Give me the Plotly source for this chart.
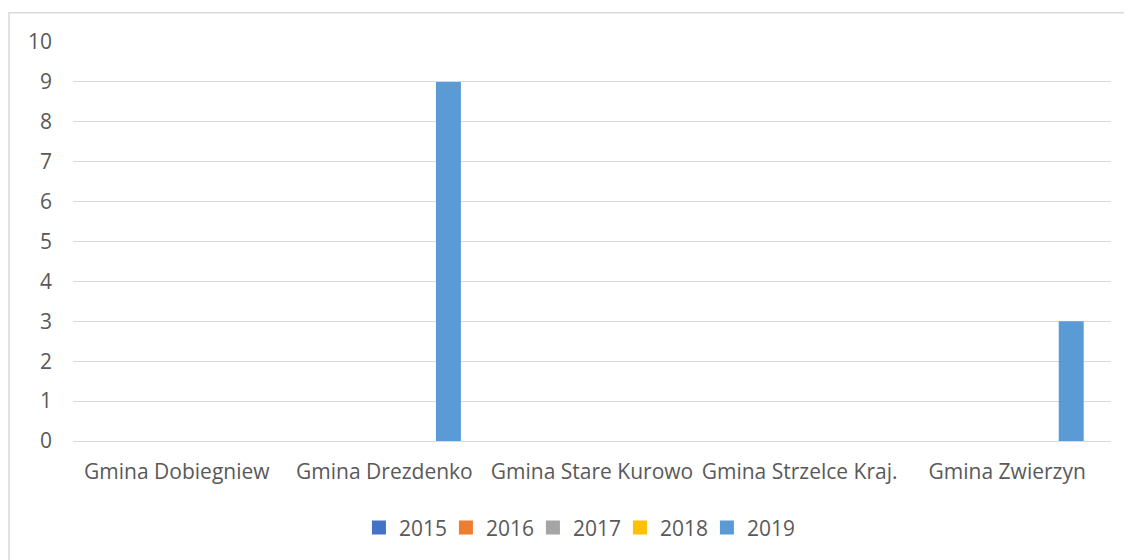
import plotly.graph_objects as go

categories = ["Gmina Dobiegniew", "Gmina Drezdenko", "Gmina Stare Kurowo", "Gmina Strzelce Kraj.", "Gmina Zwierzyn"]
series_names = ["2015", "2016", "2017", "2018", "2019"]
v2015 = [0, 0, 0, 0, 0]
v2016 = [0, 0, 0, 0, 0]
v2017 = [0, 0, 0, 0, 0]
v2018 = [0, 0, 0, 0, 0]
v2019 = [0, 9, 0, 0, 3]
colors = ["#4472C4", "#ED7D31", "#A5A5A5", "#FFC000", "#5B9BD5"]
y_ticks = list(range(0, 11))

values = [v2015, v2016, v2017, v2018, v2019]
OFF = 8  # default page body margin
W, H = 1132 - OFF, 560 - OFF
L, T = 73 - OFF, 41.5 - OFF
R = W - (1111 - OFF)
B = H - (443.5 - OFF)
pw, ph = W - L - R, H - T - B

fig = go.Figure()
for name, vals, col in zip(series_names, values, colors):
    fig.add_trace(go.Bar(name=name, x=categories, y=vals, marker_color=col,
                         marker_line_width=0, showlegend=False, legendgroup=name))
# legend entries with larger square swatches (Excel style)
for name, col in zip(series_names, colors):
    fig.add_trace(go.Scatter(name=name, x=[None], y=[None], mode="markers",
                             marker=dict(symbol="square", size=14, color=col),
                             legendgroup=name, hoverinfo="skip"))

font_family = "Open Sans"
txt = "#595959"
fs = 21

fig.update_layout(
    width=W, height=H,
    margin=dict(l=L, r=R, t=T, b=B, pad=0),
    paper_bgcolor="white", plot_bgcolor="white",
    barmode="group", bargap=0.229, bargroupgap=0.22,
    font=dict(family=font_family, size=fs, color=txt),
    showlegend=True,
    legend=dict(orientation="h", x=0.485, xanchor="center",
                y=(ph - (531 - OFF - T)) / ph,
                yanchor="middle", font=dict(size=fs, color=txt),
                itemwidth=30, itemsizing="trace", traceorder="normal",
                entrywidth=42, entrywidthmode="pixels"),
    xaxis=dict(showgrid=False, showline=False, zeroline=False, ticks="",
               tickfont=dict(size=fs, color=txt), ticklabelstandoff=16),
    yaxis=dict(range=[0, 10], tickvals=y_ticks, showgrid=True, gridcolor="#D9D9D9",
               gridwidth=1, zeroline=True, zerolinecolor="#D9D9D9", zerolinewidth=1,
               showline=False, ticks="", tickfont=dict(size=fs, color=txt),
               ticklabelstandoff=20),
)

# chart-area border (Excel style), partly cropped at right and bottom
fig.add_shape(type="rect", xref="paper", yref="paper",
              x0=(9 - OFF - L) / pw, x1=(W + 20 - L) / pw,
              y0=(T + ph - (H + 20)) / ph, y1=(T + ph - (12 - OFF)) / ph,
              line=dict(color="#D9D9D9", width=1.5), fillcolor="rgba(0,0,0,0)",
              layer="below")

fig.write_html("out.html")
